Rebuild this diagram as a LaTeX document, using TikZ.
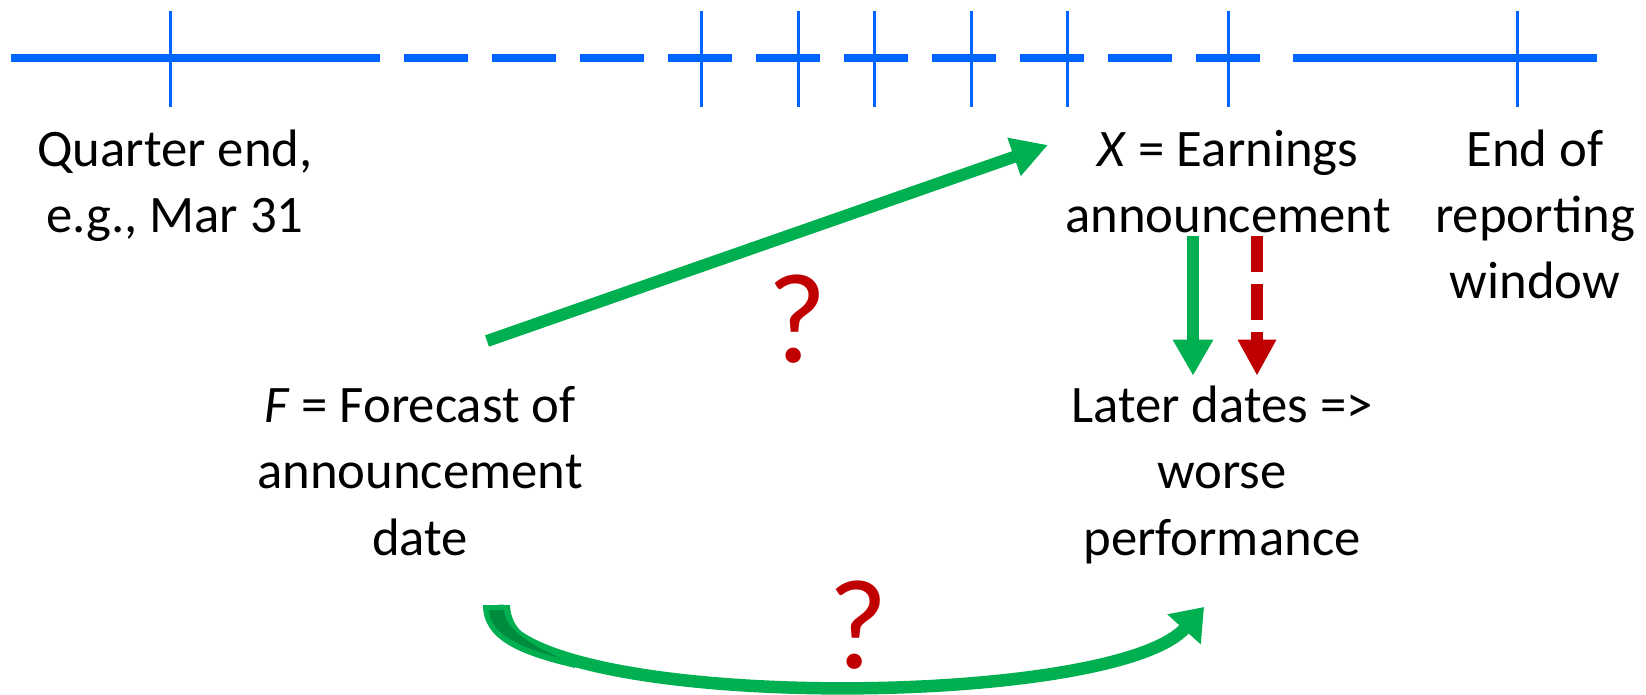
\documentclass[tikz,border=0pt]{standalone}
\usepackage{fontspec}
\setmainfont{Carlito}
\usepackage{tikz}
\usetikzlibrary{arrows.meta}

\definecolor{lineblue}{RGB}{0,102,255}
\definecolor{arrowgreen}{RGB}{0,176,80}
\definecolor{foldgreen}{RGB}{0,140,62}
\definecolor{qred}{RGB}{192,0,0}

\begin{document}
\begin{tikzpicture}[x=0.02cm, y=-0.02cm,
  timeline/.style={draw=lineblue, line width=0.16cm},
  tick/.style={draw=lineblue, line width=0.06cm},
  txt/.style={font=\fontsize{30}{37.6}\selectfont, align=center, inner sep=0pt},
  qmark/.style={font=\fontsize{73}{80}\selectfont, text=qred, inner sep=0pt},
  garrow/.style={draw=arrowgreen, line width=0.24cm, -{Triangle[length=0.72cm, width=0.76cm]}},
  rarrow/.style={draw=qred, line width=0.24cm, dash pattern=on 0.72cm off 0.24cm, -{Triangle[length=0.72cm, width=0.72cm]}},
  carrow/.style={draw=arrowgreen, line width=0.25cm, -{Triangle[length=0.6cm, width=0.86cm]}},
]
\useasboundingbox (0,0) rectangle (1646,695);

% timeline
\draw[timeline] (11,58) -- (380,58);
\draw[timeline, dash pattern=on 1.28cm off 0.48cm] (404,58) -- (1260,58);
\draw[timeline] (1293,58) -- (1597,58);
\foreach \t in {170,701,798,874,971,1067,1228,1517}
  \draw[tick] (\t,11) -- (\t,107);

% labels (base = baseline of the last line)
\node[txt, anchor=base] (qend) at (175,233) {Quarter end,\\e.g., Mar 31};
\node[txt, anchor=base] (earn) at (1228,233) {\textit{X} = Earnings\\announcement};
\node[txt, anchor=base] (rwin) at (1535,299) {End of\\reporting\\window};
\node[txt, anchor=base] (fcst) at (420,555) {\textit{F} = Forecast of\\announcement\\date};
\node[txt, anchor=base] (later) at (1222,555) {Later dates =>\\worse\\performance};

\node[qmark, anchor=base] (q1) at (797,363) {?};
\node[qmark, anchor=base] (q2) at (858,668) {?};

% arrows
\coordinate (fcsttail) at (487,341);
\coordinate (earntip) at (1048,145);
\draw[garrow] (fcsttail) -- (earntip);

\draw[garrow] ([xshift=-0.70cm, yshift=-0.04cm]earn.south) -- ++(0,140);
\draw[rarrow] ([xshift=0.58cm, yshift=-0.04cm]earn.south) -- ++(0,140);

% curved arrow below
\coordinate (curvestart) at (497,605);
\coordinate (curveend) at (1204,607);
\draw[carrow] (curvestart) .. controls (497,712) and (1110,712) .. (curveend);
\fill[arrowgreen] (483,605) .. controls (483,640) and (520,655) .. (575,668)
  -- (575,657) .. controls (530,645) and (511,630) .. (510,605) -- cycle;
\fill[foldgreen] (489,610) .. controls (490,630) and (510,645) .. (560,658)
  .. controls (520,640) and (505,625) .. (504,610) -- cycle;

\end{tikzpicture}
\end{document}
